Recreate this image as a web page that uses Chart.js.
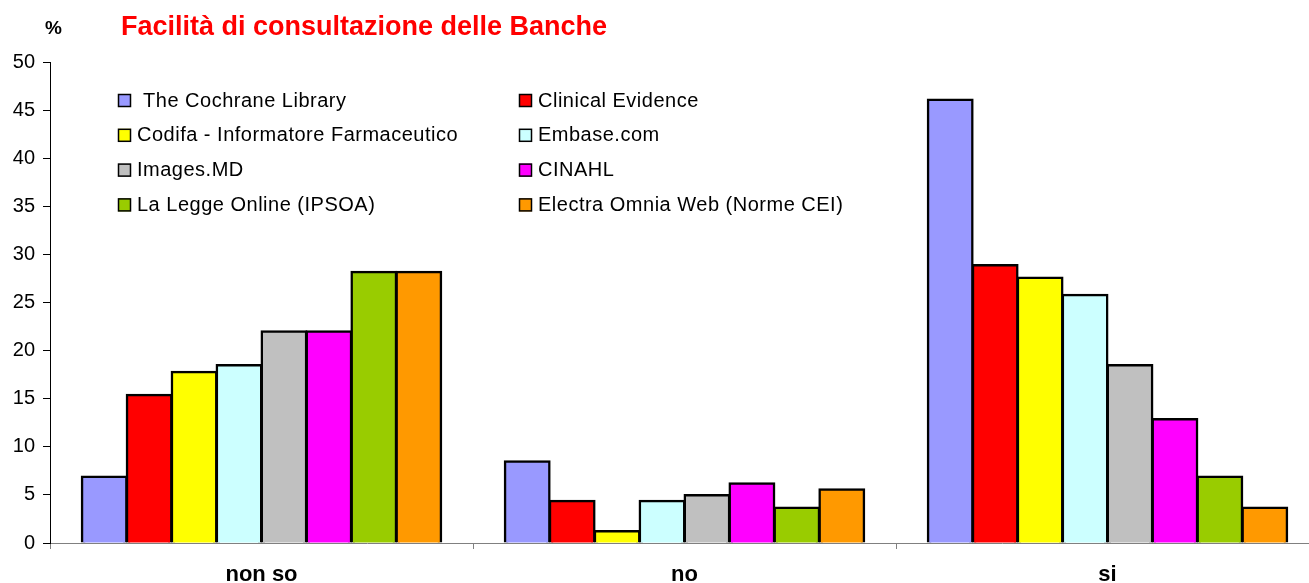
<!DOCTYPE html>
<html>
<head>
<meta charset="utf-8">
<script src="https://cdn.jsdelivr.net/npm/chart.js@4"></script>
<style>
  html, body { margin: 0; padding: 0; background: #fff; }
  #wrap { width: 1309px; height: 583px; position: relative; overflow: hidden; }
</style>
</head>
<body>
<div id="wrap"><canvas id="chart" width="1319" height="583"></canvas></div>
<script>
// categories on the x axis
const categories = ["non so", "no", "si"];

// one array per bank, values in %
const seriesNames = [
  " The Cochrane Library",
  "Clinical Evidence",
  "Codifa - Informatore Farmaceutico",
  "Embase.com",
  "Images.MD",
  "CINAHL",
  "La Legge Online (IPSOA)",
  "Electra Omnia Web (Norme CEI)"
];
const cochrane = [6.9, 8.5, 46.1];
const clinicalEvidence = [15.4, 4.4, 28.9];
const codifa = [17.8, 1.25, 27.6];
const embase = [18.5, 4.4, 25.8];
const imagesMD = [22.0, 5.0, 18.5];
const cinahl = [22.0, 6.2, 12.9];
const laLegge = [28.2, 3.7, 6.9];
const electra = [28.2, 5.6, 3.7];

const yTicks = [0, 5, 10, 15, 20, 25, 30, 35, 40, 45, 50];

const colors = ["#9999FF", "#FF0000", "#FFFF00", "#CCFFFF", "#C0C0C0", "#FF00FF", "#99CC00", "#FF9900"];
const values = [cochrane, clinicalEvidence, codifa, embase, imagesMD, cinahl, laLegge, electra];

const datasets = seriesNames.map((name, i) => ({
  label: name,
  data: values[i],
  backgroundColor: colors[i],
  borderColor: "#000",
  borderWidth: 2.5,
  borderSkipped: "bottom",
  inflateAmount: 1,
  categoryPercentage: 0.85,
  barPercentage: 1.0
}));

// titles drawn above the plot
const titlePlugin = {
  id: "titles",
  afterDraw(chart) {
    const ctx = chart.ctx;
    ctx.save();
    ctx.textBaseline = "middle";
    ctx.textAlign = "left";
    ctx.fillStyle = "#000";
    ctx.font = "bold 19px 'Liberation Sans', Arial, sans-serif";
    ctx.fillText("%", 45, 29);
    ctx.fillStyle = "#FF0000";
    ctx.font = "bold 27px 'Liberation Sans', Arial, sans-serif";
    ctx.fillText("Facilità di consultazione delle Banche", 121, 28);
    ctx.restore();
  }
};

// legend inside the plot, two columns
const legendPlugin = {
  id: "innerLegend",
  afterDraw(chart) {
    const ctx = chart.ctx;
    const area = chart.chartArea;
    ctx.save();
    ctx.font = "20px 'Liberation Sans', Arial, sans-serif";
    ctx.letterSpacing = "0.5px";
    ctx.textBaseline = "middle";
    ctx.textAlign = "left";
    chart.data.datasets.forEach((ds, i) => {
      const col = i % 2;
      const row = Math.floor(i / 2);
      const bx = area.left + (col ? 469 : 68);
      const cy = area.top + 38 + row * 34.8;
      ctx.fillStyle = ds.backgroundColor;
      ctx.fillRect(bx, cy - 6, 13, 13);
      ctx.strokeStyle = "#000";
      ctx.lineWidth = 1.5;
      ctx.strokeRect(bx + 0.5, cy - 5.5, 12, 12);
      ctx.fillStyle = "#000";
      ctx.fillText(ds.label, bx + 19, cy + 1);
    });
    ctx.restore();
  }
};

new Chart(document.getElementById("chart"), {
  type: "bar",
  data: { labels: categories, datasets: datasets },
  options: {
    responsive: false,
    animation: false,
    layout: { padding: { top: 62, right: 0, left: 0, bottom: 0 } },
    plugins: {
      legend: { display: false },
      title: { display: false },
      tooltip: { enabled: false }
    },
    scales: {
      x: {
        afterFit: (scale) => { scale.height = 40; },
        grid: { display: true, drawOnChartArea: false, drawTicks: true, tickLength: 6, color: "#808080", offset: true },
        border: { display: true, color: "#808080", width: 1 },
        ticks: {
          color: "#000",
          padding: 13,
          font: { family: "'Liberation Sans', Arial, sans-serif", size: 22, weight: "bold" }
        }
      },
      y: {
        min: 0,
        max: 50,
        afterFit: (scale) => { scale.width = 50; },
        afterBuildTicks: (scale) => { scale.ticks = yTicks.map(v => ({ value: v })); },
        grid: { display: true, drawOnChartArea: false, drawTicks: true, tickLength: 7, color: "#000" },
        border: { display: true, color: "#000", width: 1 },
        ticks: {
          color: "#000",
          padding: 8,
          font: { family: "'Liberation Sans', Arial, sans-serif", size: 20 }
        }
      }
    }
  },
  plugins: [titlePlugin, legendPlugin]
});
</script>
</body>
</html>
